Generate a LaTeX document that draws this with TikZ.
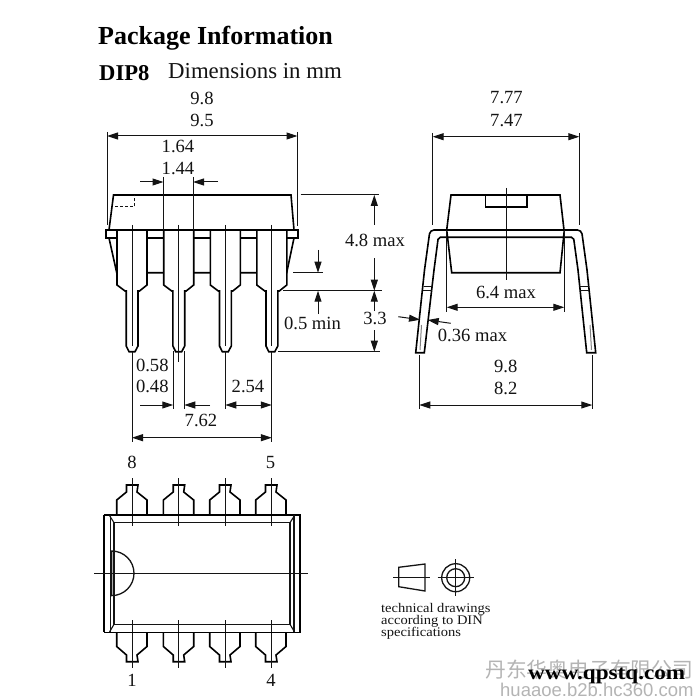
\documentclass[tikz,border=0pt]{standalone}
\usepackage{fontspec}
\setmainfont{Liberation Serif}
\newfontfamily\cjkfam{Noto Sans CJK SC}
\newfontfamily\sansfam{Liberation Sans}
\newfontfamily\urlfam[FakeStretch=1.13]{Liberation Serif Bold}
\newfontfamily\notefam[FakeStretch=1.1]{Liberation Serif}
\usetikzlibrary{arrows.meta}
\definecolor{ink}{HTML}{141414}
\definecolor{wmark}{HTML}{B4B4B4}
\tikzset{
  thinl/.style={line width=1pt,draw=ink},
  midl/.style={line width=1.1pt,draw=ink},
  outl/.style={line width=1.6pt,draw=black,line join=miter},
  thickl/.style={line width=2pt,draw=black},
  dimline/.style={line width=1pt,draw=ink},
  tip/.tip={Triangle[length=11pt,width=7pt]},
  dima/.style={dimline,{tip}-{tip}},
  dimr/.style={dimline,-{tip}},
  lab/.style={font=\fontsize{18.6}{18.6}\selectfont,text=ink,inner sep=0pt},
  small/.style={font=\notefam\fontsize{13.2}{13.2}\selectfont,text=ink,inner sep=0pt,anchor=west},
}
\newcommand{\sidepin}[1]{%
  \draw[outl,fill=white,shift={(#1,0)}] (-15,230) -- (-15,285) -- (-7,291) -- (-5.8,291) -- (-5.8,346) -- (-3,351.7) -- (3,351.7) -- (6,346) -- (6,291) -- (7.5,291) -- (15,285) -- (15,230);
  \draw[thinl,shift={(#1,0)}] (0,225) -- (0,346);
}
\newcommand{\toppin}[1]{%
  \draw[outl,shift={(#1,0)}] (-15.3,515) -- (-15.3,500) -- (-5.5,492) -- (-5.5,485) -- (6,485) -- (5,492) -- (15,500) -- (15,515);
  \draw[thinl,shift={(#1,0)}] (0,478) -- (0,526);
  \draw[outl,shift={(#1,0)}] (-15.3,632) -- (-15.3,646.5) -- (-5.5,655) -- (-5.5,661.7) -- (6,661.7) -- (5,655) -- (15,646.5) -- (15,632);
  \draw[thinl,shift={(#1,0)}] (0,620) -- (0,668);
}
\begin{document}
\begin{tikzpicture}[x=1pt,y=-1pt]
\useasboundingbox (0,0) rectangle (699,700);
\fill[white] (0,0) rectangle (699,700);

% headings
\node[font=\bfseries\fontsize{26}{26}\selectfont,text=black,inner sep=0pt,anchor=west] (title) at (98,38) {Package Information};
\node[font=\bfseries\fontsize{22.6}{22.6}\selectfont,text=black,inner sep=0pt,anchor=west] (dip) at (99,73) {DIP8};
\node[font=\fontsize{22.8}{22.8}\selectfont,text=ink,inner sep=0pt,anchor=west] (dimsin) at (168,71.5) {Dimensions in mm};

% side view: body
\draw[outl] (109,230) -- (113.5,195) -- (291,195) -- (294,230);
\draw[midl,densely dashed] (115,206.7) -- (134.7,206.7) -- (134.7,195);
\draw[outl] (105.7,230) rectangle (298,238);
\draw[outl] (109,238) -- (116.7,272.7) -- (286.7,272.7) -- (294,238);
\foreach \p in {132,178.7,225.3,271.8} {\sidepin{\p}}
\draw[outl] (105.7,230) -- (298,230);
% side view: dimensions
\draw[thinl] (107,132) -- (107,225);
\draw[thinl] (297.5,132) -- (297.5,226);
\draw[dima] (107,136) -- (297.5,136);
\node[lab] (a98) at (202,98) {9.8};
\node[lab] (a95) at (202,120.5) {9.5};
\node[lab] (a164) at (178,146.5) {1.64};
\node[lab] (a144) at (178,168) {1.44};
\draw[thinl] (163.5,177) -- (163.5,230);
\draw[thinl] (193,177) -- (193,230);
\draw[dimr] (140,182) -- (163.5,182);
\draw[dimr] (218,182) -- (193,182);
\draw[thinl] (300.7,195) -- (379,195);
\draw[thinl] (293,272.7) -- (323,272.7);
\draw[thinl] (283,290.7) -- (381.7,290.7);
\draw[thinl] (278,351.7) -- (380,351.7);
\node[lab] (a48) at (375,240) {4.8 max};
\draw[dimr] (374.3,225) -- (374.3,195);
\draw[dimr] (374.3,258) -- (374.3,290.7);
\draw[dimr] (374.3,311) -- (374.3,290.7);
\draw[dimr] (374.3,330) -- (374.3,351.7);
\node[lab] (a33) at (375,318) {3.3};
\draw[dimr] (318,250) -- (318,272.7);
\draw[dimr] (318,314) -- (318,290.7);
\node[lab] (a05) at (312.5,323) {0.5 min};
\draw[thinl] (132,351.7) -- (132,441.7);
\draw[thinl] (271.8,351.7) -- (271.8,441.7);
\draw[thinl] (173.3,351) -- (173.3,409);
\draw[thinl] (184.3,351) -- (184.3,409);
\draw[thinl] (178.7,346) -- (178.7,362);
\draw[thinl] (225.3,351) -- (225.3,409);
\draw[dimr] (140,405) -- (173.3,405);
\draw[dimr] (210,405) -- (184.3,405);
\draw[dima] (225.3,405) -- (271.8,405);
\draw[dima] (132,437.7) -- (271.8,437.7);
\node[lab] (a058) at (152.3,365) {0.58};
\node[lab] (a048) at (152.3,386.5) {0.48};
\node[lab] (a254) at (248,386) {2.54};
\node[lab] (a762) at (201,420) {7.62};

% end view
\draw[outl] (446.7,230) -- (451,195) -- (560,195) -- (564,230);
\draw[outl] (485.3,195) -- (485.3,207.3) -- (526.7,207.3) -- (526.7,195);
\draw[outl] (446.7,230) -- (451.7,272.7) -- (560,272.7) -- (564.3,230);
\draw[thinl] (506.5,188) -- (506.5,280);
\draw[outl,rounded corners=4pt] (424.5,270) -- (430,230) -- (581.5,230) -- (587,270);
\draw[outl,rounded corners=2pt] (434,270) -- (438.3,237.3) -- (573.5,237.3) -- (578,270);
\draw[outl] (424.5,270) -- (415.7,352.7) -- (424.3,352.7) -- (434,270);
\draw[outl] (587,270) -- (595.7,352.7) -- (586.7,352.7) -- (578,270);
\draw[thinl] (423.5,286.7) -- (432.5,286.7) (423,290.7) -- (432,290.7);
\draw[thinl] (579,286.7) -- (588.5,286.7) (579.5,290.7) -- (589,290.7);
\draw[thinl,draw=gray] (421.5,325) -- (420,350) (590,325) -- (591.5,350);
\draw[thinl] (432.7,133) -- (432.7,225);
\draw[thinl] (579.3,133) -- (579.3,225);
\draw[dima] (432.7,136.7) -- (579.3,136.7);
\node[lab] (b777) at (506.5,98) {7.77};
\node[lab] (b747) at (506.5,120.5) {7.47};
\draw[thinl] (446.7,230) -- (446.7,312);
\draw[thinl] (564.3,230) -- (564.3,312);
\draw[dima] (446.7,307.3) -- (564.3,307.3);
\node[lab] (b64) at (506,292.5) {6.4 max};
\draw[dimr] (398.3,316.7) -- (420,319.7);
\draw[dimr] (450.7,323.3) -- (427.7,320);
\node[lab] (b036) at (472.5,335.5) {0.36 max};
\node[lab] (b98) at (505.7,366) {9.8};
\node[lab] (b82) at (505.7,388.5) {8.2};
\draw[thinl] (419.3,355) -- (419.3,409);
\draw[thinl] (592.3,355) -- (592.3,409);
\draw[dima] (419.3,405) -- (592.3,405);

% top view
\foreach \p in {132,178.7,225,271} {\toppin{\p}}
\draw[thickl] (104,515) -- (104,632.3);
\draw[outl] (104,515) -- (300,515) -- (300,632.3) -- (104,632.3);
\draw[midl] (114,522.7) rectangle (290,624.3);
\draw[midl] (110.7,515) -- (110.7,632.3);
\draw[midl] (294,515) -- (294,632.3);
\draw[midl] (109.5,515.5) -- (114,522.7) (109.5,632) -- (114,624.3) (294.5,515.5) -- (290,522.7) (294.5,632) -- (290,624.3);
\draw[thinl] (94,573.3) -- (307.7,573.3);
\draw[midl,line width=1.3pt] (111.7,551) arc (-90:90:22.3) -- cycle;
\node[lab] (p8) at (132,462) {8};
\node[lab] (p5) at (270.6,462) {5};
\node[lab] (p1) at (132,680.5) {1};
\node[lab] (p4) at (271,680.5) {4};

% projection symbol
\draw[midl,line width=1.3pt] (398.7,567.3) -- (425,564) -- (425,591) -- (398.7,586.7) -- cycle;
\draw[thinl] (393,577.7) -- (430,577.7);
\draw[midl,line width=1.3pt] (455.7,577.7) circle (14);
\draw[midl,line width=1.3pt] (455.7,577.7) circle (9);
\draw[thinl] (437.7,577.7) -- (474.3,577.7);
\draw[thinl] (455.7,559) -- (455.7,595.7);
\node[small] (din1) at (381,609) {technical drawings};
\node[small] (din2) at (381,621) {according to DIN};
\node[small] (din3) at (381,633) {specifications};

% watermarks
\node[font=\cjkfam\fontsize{20.8}{20.8}\selectfont,text=wmark,inner sep=0pt,anchor=west] (wm1) at (485,670) {丹东华奥电子有限公司};
\node[font=\sansfam\fontsize{18.5}{18.5}\selectfont,text=wmark,inner sep=0pt,anchor=west] (wm2) at (500,690) {huaaoe.b2b.hc360.com};
\node[font=\urlfam\fontsize{20.5}{20.5}\selectfont,text=black,inner sep=0pt,anchor=west] (url) at (528,676) {www.qpstq.com};
\end{tikzpicture}
\end{document}
